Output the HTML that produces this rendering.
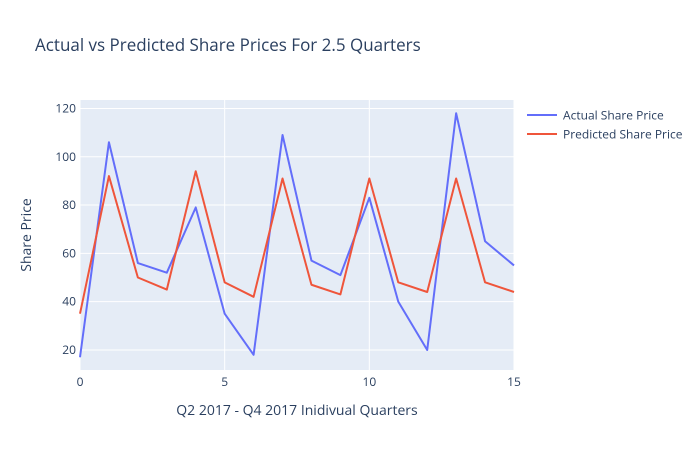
<!DOCTYPE html>
<html><head><meta charset="utf-8"><style>
body{margin:0;background:#fff;}
svg text{font-family:"Open Sans","Liberation Sans",sans-serif;}
</style></head><body>
<svg width="700" height="450" xmlns="http://www.w3.org/2000/svg">
<rect x="0" y="0" width="700" height="450" fill="#fff"/>
<rect x="80" y="100" width="434" height="270" fill="#e5ecf6"/>
<g id="grid"></g>
<g id="series"></g>
<g id="ticks"></g>
<text x="35" y="51" font-size="17" fill="#2a3f5f">Actual vs Predicted Share Prices For 2.5 Quarters</text>
<text x="297" y="415" font-size="14" fill="#2a3f5f" text-anchor="middle">Q2 2017 - Q4 2017 Inidivual Quarters</text>
<text x="31" y="235" font-size="14" fill="#2a3f5f" text-anchor="middle" transform="rotate(-90 31 235)">Share Price</text>
<g>
<line x1="527" y1="115" x2="557" y2="115" stroke="#636efa" stroke-width="2"/>
<text x="563" y="119.5" font-size="12" fill="#2a3f5f">Actual Share Price</text>
</g>
<g>
<line x1="527" y1="134" x2="557" y2="134" stroke="#ef553b" stroke-width="2"/>
<text x="563" y="138.5" font-size="12" fill="#2a3f5f">Predicted Share Price</text>
</g>
</svg>
<script>
const xValues=[0,1,2,3,4,5,6,7,8,9,10,11,12,13,14,15];
const actual=[17,106,56,52,79,35,18,109,57,51,83,40,20,118,65,55];
const predicted=[35,92,50,45,94,48,42,91,47,43,91,48,44,91,48,44];
const xTicks=[0,5,10,15];
const yTicks=[20,40,60,80,100,120];
const NS="http://www.w3.org/2000/svg";
const xs=v=>80+(v-0)/15*434;
const ys=v=>370-(v-11.7)/(123.5-11.7)*270;
const grid=document.getElementById('grid'),ticks=document.getElementById('ticks'),ser=document.getElementById('series');
function mk(t,a,p){const e=document.createElementNS(NS,t);for(const k in a)e.setAttribute(k,a[k]);p.appendChild(e);return e;}
xTicks.forEach(v=>{
 const l=mk('line',{x1:xs(v),x2:xs(v),y1:100,y2:370,stroke:'#fff','stroke-width':1},grid);
 
 
 const t=mk('text',{x:xs(v),y:386,'font-size':12,fill:'#2a3f5f','text-anchor':'middle'},ticks);t.textContent=v;
 
 
});
yTicks.forEach(v=>{
 const l=mk('line',{x1:80,x2:514,y1:ys(v),y2:ys(v),stroke:'#fff','stroke-width':1},grid);
 
 
 const t=mk('text',{x:76,y:ys(v)+4,'font-size':12,fill:'#2a3f5f','text-anchor':'end'},ticks);t.textContent=v;
 
 
});
function line(data,color,name){
 const d=data.map((v,i)=>(i?'L':'M')+xs(xValues[i])+','+ys(v)).join('');
 const p=mk('path',{d:d,fill:'none',stroke:color,'stroke-width':2,'stroke-linejoin':'round'},ser);
 
 
}
line(actual,'#636efa','actual-share-price-line');
line(predicted,'#ef553b','predicted-share-price-line');
</script>
</body></html>
